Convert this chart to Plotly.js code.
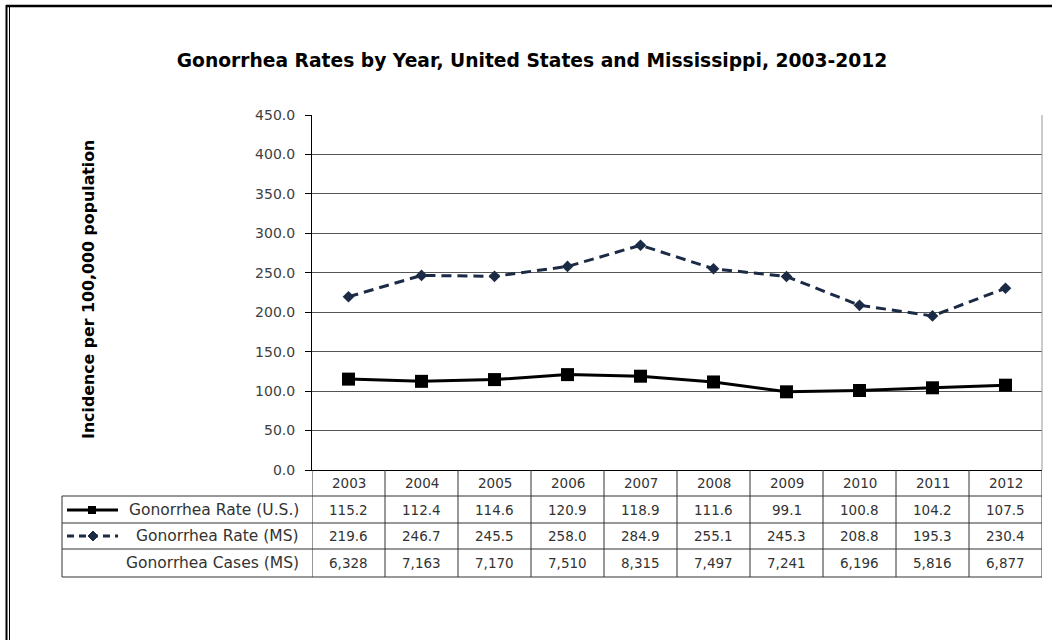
<!DOCTYPE html>
<html><head><meta charset="utf-8">
<script src="https://cdn.plot.ly/plotly-3.0.1.min.js"></script>
<style>html,body{margin:0;padding:0;background:#fff}#chart{width:1052px;height:640px}</style>
</head><body><div id="chart"></div>
<script>
const years = ['2003','2004','2005','2006','2007','2008','2009','2010','2011','2012'];
const usRate = [115.2,112.4,114.6,120.9,118.9,111.6,99.1,100.8,104.2,107.5];
const msRate = [219.6,246.7,245.5,258.0,284.9,255.1,245.3,208.8,195.3,230.4];
const msCases = [6328,7163,7170,7510,8315,7497,7241,6196,5816,6877];
const rowLabels = ['Gonorrhea Rate (U.S.)','Gonorrhea Rate (MS)','Gonorrhea Cases (MS)'];
const titleText = 'Gonorrhea Rates by Year, United States and Mississippi, 2003-2012';
const yTitleText = 'Incidence per 100,000 population';

const W = 1052, H = 640, L = 312, R = 10, T = 115, B = 170;
const PW = W - L - R, PH = H - T - B;
const px = x => (x - L) / PW;
const py = y => (H - B - y) / PH;
const FONT = 'DejaVu Sans, sans-serif';
const NAVY = '#1c2b45';

const traces = [
  {x: years, y: usRate, type: 'scatter', mode: 'lines+markers', name: rowLabels[0],
   line: {color: '#000', width: 3}, marker: {symbol: 'square', size: 13, color: '#000'}},
  {x: years, y: msRate, type: 'scatter', mode: 'lines+markers', name: rowLabels[1],
   line: {color: NAVY, width: 3, dash: '10px,6px'}, marker: {symbol: 'diamond', size: 9, color: NAVY}}
];

const shapes = [];
const ln = (x0, y0, x1, y1, color, width, xref, dash) => shapes.push({type: 'line', xref: xref || 'paper', yref: 'paper',
  x0, y0, x1, y1, line: {color, width, dash: dash || 'solid'}});

// outer frame
ln(px(6), py(6), px(1052), py(6), '#000', 2.5);
ln(px(6.5), py(5), px(6.5), py(640), '#000', 2);
ln(px(9.5), py(7), px(9.5), py(640), '#000', 1);
// plot area right edge
ln(1, 0, 1, 1, '#999', 1);

// table
const rowLines = [496, 523, 549, 577];
for (let i = 0; i <= years.length; i++) ln(i - 0.5, 0, i - 0.5, py(577), '#333', 1, 'x');
rowLines.forEach(y => ln(px(62), py(y), 1, py(y), '#333', 1));
ln(px(62), py(496), px(62), py(577), '#333', 1);

// legend glyphs
ln(px(67), py(510), px(118), py(510), '#000', 3);
shapes.push({type: 'rect', xref: 'paper', yref: 'paper', x0: px(88), x1: px(96), y0: py(514), y1: py(506),
  fillcolor: '#000', line: {width: 0}});
ln(px(67), py(536), px(118), py(536), NAVY, 3, 'paper', '7px,5px');
shapes.push({type: 'path', xref: 'paper', yref: 'paper',
  path: `M ${px(93)},${py(531)} L ${px(98)},${py(536)} L ${px(93)},${py(541)} L ${px(88)},${py(536)} Z`,
  fillcolor: NAVY, line: {color: NAVY, width: 1}});

const annotations = [];
const tfont = {family: FONT, size: 13.5, color: '#333'};
const lfont = {family: FONT, size: 15.5, color: '#333'};
const rowY = [py(510), py(536), py(563)];
years.forEach((yr, i) => {
  annotations.push({x: i, y: py(483), xref: 'x', yref: 'paper', text: yr, showarrow: false, font: tfont, yanchor: 'middle'});
  annotations.push({x: i, y: rowY[0], xref: 'x', yref: 'paper', text: usRate[i].toFixed(1), showarrow: false, font: tfont, yanchor: 'middle'});
  annotations.push({x: i, y: rowY[1], xref: 'x', yref: 'paper', text: msRate[i].toFixed(1), showarrow: false, font: tfont, yanchor: 'middle'});
  annotations.push({x: i, y: rowY[2], xref: 'x', yref: 'paper', text: msCases[i].toLocaleString('en-US'), showarrow: false, font: tfont, yanchor: 'middle'});
});
rowLabels.forEach((lab, i) => annotations.push({x: px(301), y: rowY[i], xref: 'paper', yref: 'paper', text: lab,
  showarrow: false, font: lfont, xanchor: 'right', yanchor: 'middle'}));
annotations.push({x: px(88), y: py(290), xref: 'paper', yref: 'paper', text: yTitleText, textangle: -90,
  showarrow: false, font: {family: FONT, size: 15.8, color: '#000', weight: 'bold'}, xanchor: 'center', yanchor: 'middle'});

const layout = {
  width: W, height: H, margin: {l: L, r: R, t: T, b: B},
  paper_bgcolor: '#fff', plot_bgcolor: '#fff', showlegend: false,
  title: {text: titleText, x: px(532), xref: 'paper', xanchor: 'center', y: 1 - 60 / H, yanchor: 'middle',
    font: {family: FONT, size: 18.7, color: '#000', weight: 'bold'}},
  xaxis: {type: 'category', range: [-0.5, 9.5], showticklabels: false, ticks: '', showgrid: false,
    showline: true, linecolor: '#000', linewidth: 1, zeroline: false, fixedrange: true},
  yaxis: {range: [0, 450], dtick: 50, tick0: 0, tickformat: '.1f', ticks: 'outside', ticklen: 6, tickcolor: '#000',
    ticklabelstandoff: 7,
    showline: true, linecolor: '#000', linewidth: 1, showgrid: true, gridcolor: '#555', gridwidth: 1, zeroline: false,
    tickfont: {family: FONT, size: 14, color: '#404040'}, fixedrange: true},
  shapes, annotations
};
Plotly.newPlot('chart', traces, layout, {displayModeBar: false, staticPlot: true});
</script></body></html>
